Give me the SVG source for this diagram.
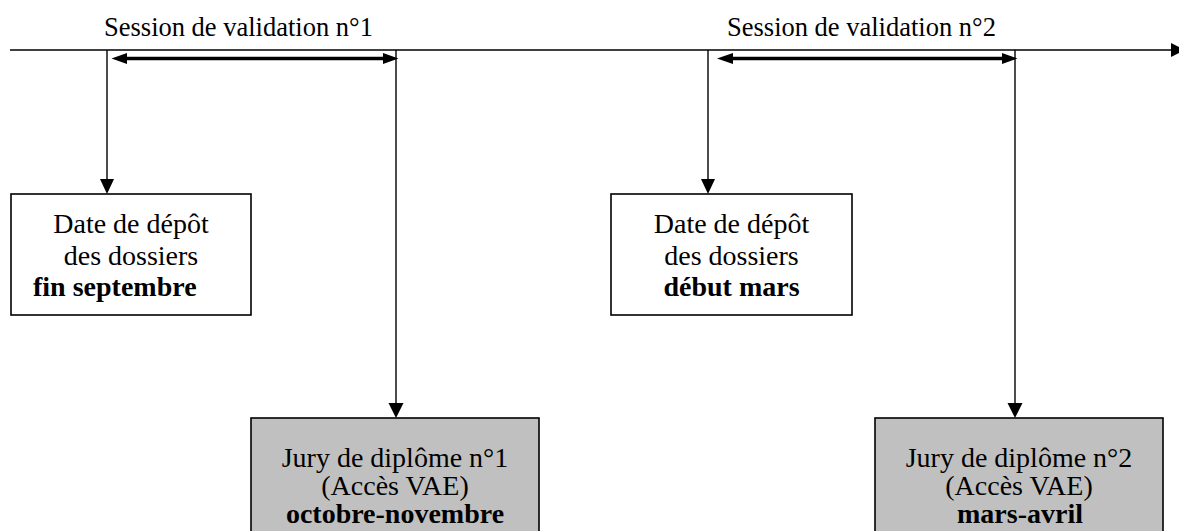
<svg xmlns="http://www.w3.org/2000/svg" width="1179" height="531" viewBox="0 0 1179 531">
<style>
  text { font-family: "Liberation Serif", "Times New Roman", serif; fill: #000; }
  .t { font-size: 26.5px; }
  .b { font-size: 28px; text-anchor: middle; }
  .bold { font-weight: bold; }
  .line { stroke: #000; stroke-width: 1.4; fill: none; }
  .thick { stroke: #000; stroke-width: 3.5; fill: none; }
  .box { fill: #fff; stroke: #000; stroke-width: 1.6; }
  .grey { fill: #c0c0c0; stroke: #000; stroke-width: 1.6; }
  .head { fill: #000; }
</style>
<rect x="0" y="0" width="1179" height="531" fill="#fff"/>
<g id="connectors">
  <!-- timeline -->
  <line class="line" x1="10" y1="50" x2="1173" y2="50"/>
  <polygon class="head" points="1171,43 1171,57 1185,50"/>
  <!-- session 1 span -->
  <line class="thick" x1="124" y1="58.5" x2="386" y2="58.5"/>
  <polygon class="head" points="111.5,58.5 127,53 127,64"/>
  <polygon class="head" points="398.5,58.5 383,53 383,64"/>
  <!-- session 2 span -->
  <line class="thick" x1="730" y1="58.5" x2="1005" y2="58.5"/>
  <polygon class="head" points="717,58.5 733,53 733,64"/>
  <polygon class="head" points="1017.5,58.5 1002,53 1002,64"/>
  <!-- verticals -->
  <line class="line" x1="107" y1="50" x2="107" y2="182"/>
  <polygon class="head" points="100,179 114,179 107,194"/>
  <line class="line" x1="396" y1="50" x2="396" y2="406"/>
  <polygon class="head" points="388.5,403 403.5,403 396,418"/>
  <line class="line" x1="708" y1="50" x2="708" y2="182"/>
  <polygon class="head" points="701,179 715,179 708,194"/>
  <line class="line" x1="1015" y1="50" x2="1015" y2="406"/>
  <polygon class="head" points="1007.5,403 1022.5,403 1015,418"/>
</g>
<g id="session1">
  <text class="t" x="104" y="36">Session de validation n°1</text>
</g>
<g id="session2">
  <text class="t" x="727" y="36">Session de validation n°2</text>
</g>
<g id="depot1">
  <rect class="box" x="11" y="194" width="240" height="121"/>
  <text class="b" x="131" y="233">Date de dépôt</text>
  <text class="b" x="131" y="264.5">des dossiers</text>
  <text class="b bold" x="33" y="296" style="text-anchor:start">fin septembre</text>
</g>
<g id="depot2">
  <rect class="box" x="611" y="194" width="241" height="121"/>
  <text class="b" x="731.5" y="233">Date de dépôt</text>
  <text class="b" x="731.5" y="264.5">des dossiers</text>
  <text class="b bold" x="731.5" y="296">début mars</text>
</g>
<g id="jury1">
  <rect class="grey" x="251" y="418" width="288" height="125"/>
  <text class="b" x="395" y="467">Jury de diplôme n°1</text>
  <text class="b" x="395" y="495">(Accès VAE)</text>
  <text class="b bold" x="395" y="523">octobre-novembre</text>
</g>
<g id="jury2">
  <rect class="grey" x="875" y="418" width="288" height="125"/>
  <text class="b" x="1019" y="467">Jury de diplôme n°2</text>
  <text class="b" x="1019" y="495">(Accès VAE)</text>
  <text class="b bold" x="1020" y="523">mars-avril</text>
</g>
</svg>
